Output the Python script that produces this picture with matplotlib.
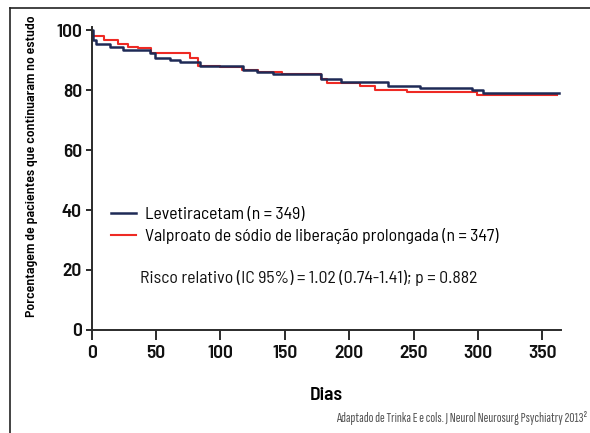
import matplotlib
matplotlib.use("Agg")
import matplotlib.pyplot as plt
from matplotlib.lines import Line2D

plt.rcParams['font.family'] = ['Barlow Semi Condensed', 'DejaVu Sans']

# Kaplan-Meier steps (days, % still in study)
blue_days = [0, 0.8, 3.3, 14.2, 24.6, 45.3, 49.1, 60.8, 68.6, 84.1, 117.2,
             128.1, 141, 178, 193.6, 229.8, 254.9, 295.5, 304, 363]
blue_pct = [100, 96.6, 95.5, 94.4, 93.5, 92.2, 90.8, 89.9, 89.3, 87.9, 86.6,
            85.9, 85.3, 83.7, 82.6, 81.5, 80.7, 79.9, 79.1, 79.1]

red_days = [0, 9.5, 20.7, 28.4, 36.2, 46.1, 76.3, 82.8, 99.6, 116.4, 129.4,
            147.5, 178, 182.4, 208.3, 220, 244.5, 298.9, 361]
red_pct = [98.0, 96.6, 95.3, 94.4, 93.9, 92.2, 90.8, 87.9, 87.7, 86.6, 85.9,
           85.3, 83.7, 82.3, 81.2, 80.1, 79.4, 78.5, 78.5]

blue_label = 'Levetiracetam (n = 349)'
red_label = 'Valproato de sódio de liberação prolongada (n = 347)'
risk_text = 'Risco relativo (IC 95%) = 1.02 (0.74-1.41); p = 0.882'
source_text = 'Adaptado de Trinka E e cols. J Neurol Neurosurg Psychiatry 2013²'

x_ticks = [0, 50, 100, 150, 200, 250, 300, 350]
y_ticks = [0, 20, 40, 60, 80, 100]

blue = '#1e2a56'
red = '#ee2a24'
dark = '#2b2b2b'

fig = plt.figure(figsize=(5.9, 4.33), dpi=100)
ax = fig.add_axes([0.1554, 0.2379, 0.7946, 0.6997])

l_red, = ax.step(red_days, red_pct, where='post', color=red, lw=1.5)
l_blue, = ax.step(blue_days, blue_pct, where='post', color=blue, lw=1.8)

ax.set_xlim(0, 364)
ax.set_ylim(0, 101)
ax.set_xticks(x_ticks)
ax.set_yticks(y_ticks)
for s in ['top', 'right']:
    ax.spines[s].set_visible(False)
for s in ['left', 'bottom']:
    ax.spines[s].set_color(dark)
    ax.spines[s].set_linewidth(1.4)
ax.tick_params(axis='x', length=7, width=1.4, color=dark, pad=4,
               labelsize=14)
ax.tick_params(axis='y', length=4, width=1.4, color=dark, pad=3,
               labelsize=14)
for lab in ax.get_xticklabels() + ax.get_yticklabels():
    lab.set_fontweight('semibold')
    lab.set_color('#111111')

ax.set_xlabel('Dias', fontsize=14, fontweight='semibold', labelpad=18)
ax.set_ylabel('Porcentagem de pacientes que continuaram no estudo',
              fontsize=10, fontweight='semibold')
ax.yaxis.set_label_coords(-0.1146, 0.54)

fig.legend([l_blue, l_red], [blue_label, red_label], loc='upper left',
           bbox_to_anchor=(104 / 590, 1 - 200 / 433), frameon=False,
           fontsize=12.7, handlelength=1.4, handletextpad=0.5,
           labelspacing=0.32, borderaxespad=0)

fig.text(140 / 590, 1 - 278 / 433, risk_text, fontsize=12.8, va='center',
         color='#111111')
fig.text(587 / 590, 1 - 418 / 433, source_text, fontsize=10.4, ha='right',
         va='center', color='#555555',
         family=['Sofia Sans Extra Condensed', 'DejaVu Sans'])

# frame drawn around the figure (left and top only)
fig.add_artist(Line2D([10 / 590, 10 / 590], [0, 1 - 8 / 433],
                      transform=fig.transFigure, color='#222222', lw=1.2))
fig.add_artist(Line2D([10 / 590, 1], [1 - 8 / 433, 1 - 8 / 433],
                      transform=fig.transFigure, color='#222222', lw=1.2))

fig.savefig('out.png', dpi=100)
